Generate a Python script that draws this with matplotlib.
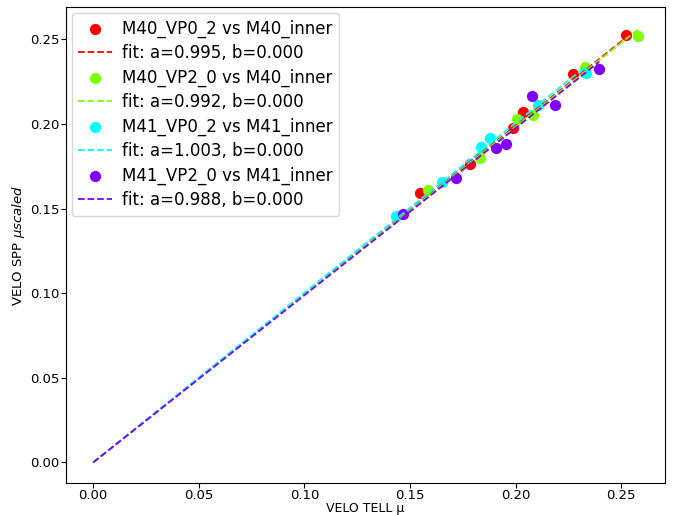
import matplotlib
matplotlib.use("Agg")
import matplotlib.pyplot as plt
import numpy as np

# measured mu values, one list per (sensor, vp) pair
labels = ["M40_VP0_2 vs M40_inner", "M40_VP2_0 vs M40_inner",
          "M41_VP0_2 vs M41_inner", "M41_VP2_0 vs M41_inner"]
colors = ["#ff0000", "#80ff00", "#00ffff", "#8000ff"]

tell_m40_vp02 = [0.1548, 0.1785, 0.1989, 0.2036, 0.2273, 0.2524]
spp_m40_vp02 = [0.1592, 0.1763, 0.1975, 0.2070, 0.2294, 0.2524]

tell_m40_vp20 = [0.1586, 0.1832, 0.2008, 0.2083, 0.2330, 0.2580]
spp_m40_vp20 = [0.1610, 0.1798, 0.2028, 0.2052, 0.2335, 0.2518]

tell_m41_vp02 = [0.1435, 0.1652, 0.1837, 0.1880, 0.2107, 0.2334]
spp_m41_vp02 = [0.1456, 0.1657, 0.1863, 0.1916, 0.2111, 0.2300]

tell_m41_vp20 = [0.1468, 0.1719, 0.1908, 0.1955, 0.2079, 0.2188, 0.2396]
spp_m41_vp20 = [0.1468, 0.1680, 0.1857, 0.1881, 0.2164, 0.2111, 0.2323]

fit_a = [0.995, 0.992, 1.003, 0.988]
fit_b = [0.000, 0.000, 0.000, 0.000]

xs = [tell_m40_vp02, tell_m40_vp20, tell_m41_vp02, tell_m41_vp20]
ys = [spp_m40_vp02, spp_m40_vp20, spp_m41_vp02, spp_m41_vp20]

fig = plt.figure(figsize=(6.81, 5.15), dpi=100)
ax = fig.add_axes([0.0969, 0.0621, 0.8796, 0.9243])

for x, y, a, b, c, lab in zip(xs, ys, fit_a, fit_b, colors, labels):
    ax.scatter(x, y, s=50, color=c, label=lab, zorder=2)
    xf = np.linspace(0, max(x), 50)
    ax.plot(xf, a * xf + b, "--", color=c, lw=1.3,
            label=f"fit: a={a:.3f}, b={b:.3f}", zorder=3)

ax.set_xlim(-0.0129, 0.2707)
ax.set_ylim(-0.0122, 0.2691)
ax.set_xticks([0.0, 0.05, 0.10, 0.15, 0.20, 0.25])
ax.set_yticks([0.0, 0.05, 0.10, 0.15, 0.20, 0.25])
ax.tick_params(labelsize=9.5, pad=1)
ax.set_xlabel("VELO TELL μ", fontsize=9)
ax.xaxis.set_label_coords(0.5, -0.039)
ax.set_ylabel(r"VELO SPP $\mu scaled$", fontsize=9.5, labelpad=2)
ax.legend(loc="upper left", fontsize=12, labelspacing=0.38,
          borderaxespad=0.35, handletextpad=0.6)

fig.savefig("out.png", dpi=100)
